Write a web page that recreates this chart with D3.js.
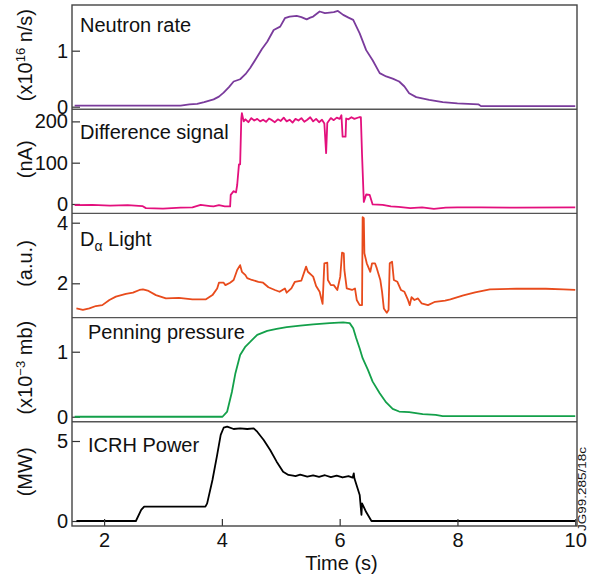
<!DOCTYPE html>
<html lang="en">
<head>
<meta charset="utf-8">
<title>Pulse traces</title>
<script src="https://cdn.jsdelivr.net/npm/d3@7"></script>
<style>
body { margin: 0; background: #fff; }
text { font-family: "Liberation Sans", Arial, Helvetica, sans-serif; fill: #111; }
.axis text { font-size: 20px; }
.axis line { stroke: #333; stroke-width: 1.2; }
</style>
</head>
<body>
<div id="chart"></div>
<script>
// time axis
var xTicks = [2, 4, 6, 8, 10];

// neutron rate (x10^16 n/s)
var neutronT = [1.50, 2.50, 3.30, 3.45, 3.58, 3.70, 3.86, 3.95, 4.03, 4.12, 4.20, 4.31, 4.40, 4.48, 4.60, 4.68, 4.77, 4.88, 4.99, 5.07, 5.15, 5.27, 5.35, 5.44, 5.50, 5.55, 5.66, 5.75, 5.83, 5.90, 5.97, 6.06, 6.15, 6.23, 6.34, 6.45, 6.56, 6.68, 6.79, 6.90, 7.01, 7.10, 7.18, 7.30, 7.52, 7.75, 8.00, 8.36, 8.40, 10.0];
var neutronV = [0.02, 0.02, 0.02, 0.04, 0.05, 0.08, 0.13, 0.18, 0.25, 0.35, 0.45, 0.49, 0.58, 0.69, 0.89, 1.03, 1.16, 1.37, 1.43, 1.58, 1.61, 1.62, 1.60, 1.56, 1.59, 1.61, 1.70, 1.67, 1.68, 1.69, 1.71, 1.64, 1.59, 1.55, 1.31, 1.01, 0.83, 0.60, 0.54, 0.50, 0.45, 0.36, 0.24, 0.17, 0.12, 0.08, 0.06, 0.04, 0.01, 0.01];

// difference signal (nA)
var diffT = [1.50, 1.80, 2.10, 2.40, 2.65, 2.71, 3.00, 3.30, 3.50, 3.64, 3.80, 3.86, 3.95, 4.05, 4.14, 4.15, 4.20, 4.24, 4.26, 4.29, 4.31, 4.33, 4.34, 4.37, 4.40, 4.45, 4.50, 4.55, 4.60, 4.65, 4.70, 4.75, 4.80, 4.85, 4.90, 4.95, 5.00, 5.05, 5.10, 5.15, 5.20, 5.25, 5.30, 5.35, 5.40, 5.45, 5.50, 5.55, 5.60, 5.65, 5.70, 5.74, 5.77, 5.79, 5.85, 5.90, 5.95, 6.00, 6.03, 6.05, 6.10, 6.11, 6.15, 6.20, 6.25, 6.33, 6.36, 6.38, 6.41, 6.45, 6.51, 6.56, 6.73, 6.87, 7.00, 7.20, 7.40, 7.60, 7.80, 8.00, 8.40, 9.00, 10.0];
var diffV = [-3, -2, -4, -3, -5, -10, -11, -9, -8, -2, -5, -6, -3, -6, -6, 22, 31, 28, 46, 96, 96, 207, 220, 200, 205, 198, 208, 202, 206, 200, 204, 199, 207, 203, 198, 205, 201, 209, 200, 204, 197, 206, 202, 208, 199, 204, 210, 200, 206, 198, 204, 195, 123, 196, 208, 203, 209, 206, 215, 163, 163, 207, 205, 210, 206, 210, 210, 119, 5, 23, 22, -1, -2, -6, -7, -10, -8, -12, -9, -8, -8, -9, -8];

// D-alpha light (a.u.)
var dalphaT = [1.53, 1.64, 1.75, 1.86, 1.97, 2.09, 2.20, 2.37, 2.49, 2.60, 2.66, 2.74, 2.88, 3.05, 3.27, 3.50, 3.73, 3.84, 3.92, 3.95, 4.03, 4.06, 4.14, 4.20, 4.26, 4.31, 4.34, 4.40, 4.43, 4.51, 4.62, 4.70, 4.79, 4.90, 4.98, 5.07, 5.10, 5.18, 5.24, 5.35, 5.43, 5.46, 5.55, 5.60, 5.66, 5.71, 5.73, 5.74, 5.79, 5.80, 5.85, 5.90, 5.96, 6.01, 6.04, 6.07, 6.08, 6.12, 6.21, 6.26, 6.29, 6.34, 6.38, 6.39, 6.41, 6.42, 6.46, 6.52, 6.55, 6.60, 6.63, 6.69, 6.72, 6.75, 6.80, 6.83, 6.85, 6.89, 6.92, 6.98, 7.04, 7.10, 7.16, 7.19, 7.22, 7.27, 7.33, 7.39, 7.50, 7.62, 7.79, 7.88, 8.10, 8.30, 8.55, 9.00, 9.50, 9.80, 10.0];
var dalphaV = [1.17, 1.12, 1.17, 1.25, 1.28, 1.45, 1.56, 1.65, 1.69, 1.78, 1.80, 1.76, 1.61, 1.50, 1.52, 1.47, 1.47, 1.61, 1.83, 2.02, 2.02, 1.94, 2.02, 2.11, 2.44, 2.60, 2.38, 2.27, 2.17, 2.11, 2.05, 2.02, 1.87, 1.78, 1.72, 1.83, 1.69, 1.83, 2.05, 2.09, 2.55, 2.38, 2.22, 1.91, 1.72, 1.32, 2.22, 2.66, 2.68, 2.11, 1.94, 1.94, 1.78, 2.22, 3.01, 2.99, 2.44, 1.83, 1.78, 1.83, 1.45, 1.28, 1.28, 4.18, 4.15, 2.99, 2.66, 2.38, 2.66, 2.66, 2.50, 2.11, 1.72, 1.17, 1.03, 1.12, 2.66, 2.71, 2.11, 2.05, 1.78, 1.72, 1.45, 1.28, 1.54, 1.45, 1.50, 1.34, 1.28, 1.39, 1.43, 1.47, 1.60, 1.70, 1.80, 1.82, 1.82, 1.80, 1.78];

// penning pressure (x10^-3 mb)
var penningT = [1.50, 4.01, 4.09, 4.17, 4.23, 4.31, 4.40, 4.48, 4.60, 4.77, 4.93, 5.10, 5.33, 5.55, 5.83, 6.06, 6.17, 6.23, 6.28, 6.34, 6.39, 6.48, 6.56, 6.68, 6.79, 6.90, 7.01, 7.18, 7.41, 7.63, 7.75, 10.0];
var penningV = [0.0, 0.0, 0.08, 0.38, 0.67, 0.95, 1.08, 1.15, 1.26, 1.32, 1.35, 1.38, 1.40, 1.42, 1.44, 1.45, 1.44, 1.36, 1.21, 1.05, 0.90, 0.72, 0.54, 0.36, 0.22, 0.12, 0.08, 0.07, 0.04, 0.03, 0.01, 0.01];

// ICRH power (MW)
var icrhT = [1.53, 2.54, 2.63, 2.68, 3.72, 3.75, 3.84, 3.92, 3.98, 4.03, 4.09, 4.20, 4.31, 4.43, 4.54, 4.60, 4.71, 4.82, 4.93, 5.04, 5.13, 5.21, 5.25, 5.33, 5.45, 5.55, 5.65, 5.75, 5.85, 5.95, 6.05, 6.15, 6.22, 6.24, 6.25, 6.34, 6.37, 6.38, 6.45, 6.54, 10.0];
var icrhV = [0, 0, 0.69, 0.9, 0.9, 1.1, 2.56, 4.13, 5.38, 5.83, 5.9, 5.75, 5.79, 5.75, 5.79, 5.58, 5.06, 4.44, 3.71, 3.08, 2.88, 2.83, 2.80, 2.90, 2.78, 2.85, 2.76, 2.86, 2.74, 2.84, 2.72, 2.80, 2.71, 2.98, 2.67, 1.63, 0.38, 1.1, 0.56, 0, 0];

var W = 593, H = 579;
var padL = 72, padR = 577, padT = 5, padB = 526;
var ph = (padB - padT) / 5;

var panels = [
  { t: neutronT, v: neutronV, color: "#7a3b9c", domain: [-0.045, 1.816], ticks: [0, 1],
    title: [["Neutron rate"]], tx: 80, ty: 26.5, unit: [["(x10"], ["16", "sup"], [" n/s)"]] },
  { t: diffT, v: diffV, color: "#e3107d", domain: [-22.8, 229.5], ticks: [0, 100, 200],
    title: [["Difference signal"]], tx: 80, ty: 30, unit: [["(nA)"]] },
  { t: dalphaT, v: dalphaV, color: "#e84b1c", domain: [0.868, 4.307], ticks: [2, 4],
    title: [["D"], ["\u03b1", "sub"], [" Light"]], tx: 80, ty: 32.5, unit: [["(a.u.)"]] },
  { t: penningT, v: penningV, color: "#13a04a", domain: [-0.078, 1.525], ticks: [0, 1],
    title: [["Penning pressure"]], tx: 88, ty: 21, unit: [["(x10"], ["\u22123", "sup"], [" mb)"]] },
  { t: icrhT, v: icrhV, color: "#000", domain: [-0.3125, 6.2], ticks: [0, 5],
    title: [["ICRH Power"]], tx: 88, ty: 30, unit: [["(MW)"]] }
];

var svg = d3.select("#chart").append("svg")
  .attr("width", W).attr("height", H);

svg.append("rect").attr("width", W).attr("height", H).attr("fill", "#fff");

var x = d3.scaleLinear().domain([1.455, 10.03]).range([padL, padR]);

// writes a label made of plain / sup / sub pieces
function pieces(sel, parts, big, small) {
  var shift = 0;
  parts.forEach(function(p) {
    var want = p[1] == "sup" ? -7 : p[1] == "sub" ? 5 : 0;
    sel.append("tspan")
      .attr("dy", want - shift)
      .attr("font-size", p[1] ? small : big)
      .text(p[0]);
    shift = want;
  });
}

panels.forEach(function(p, i) {
  var y0 = padT + i * ph;
  var y = d3.scaleLinear().domain(p.domain).range([y0 + ph, y0]);
  var g = svg.append("g");

  g.append("g").attr("class", "axis")
    .attr("transform", "translate(" + padL + ",0)")
    .call(d3.axisLeft(y).tickValues(p.ticks).tickFormat(d3.format("d")).tickSize(-8).tickPadding(4))
    .call(function(a) { a.select(".domain").remove(); });

  var pts = p.t.map(function(t, k) { return [t, p.v[k]]; });
  g.append("path")
    .datum(pts)
    .attr("fill", "none")
    .attr("stroke", p.color)
    .attr("stroke-width", 1.8)
    .attr("stroke-linejoin", "round")
    .attr("d", d3.line().x(function(d) { return x(d[0]); }).y(function(d) { return y(d[1]); }));

  pieces(g.append("text").attr("x", p.tx).attr("y", y0 + p.ty), p.title, 20, 14);

  var ut = g.append("text")
    .attr("text-anchor", "middle")
    .attr("transform", "translate(32," + (y0 + ph / 2 - 2) + ") rotate(-90)");
  pieces(ut, p.unit, 20, 13);

  if (i > 0) {
    svg.append("line")
      .attr("x1", padL).attr("x2", padR).attr("y1", y0).attr("y2", y0)
      .attr("stroke", "#555").attr("stroke-width", 1.4);
  }
});

// time axis at the bottom, ticks point inward
svg.append("g").attr("class", "axis")
  .attr("transform", "translate(0," + padB + ")")
  .call(d3.axisBottom(x).tickValues(xTicks).tickFormat(d3.format("d")).tickSize(-7).tickPadding(7))
  .call(function(a) { a.select(".domain").remove(); });

svg.append("rect")
  .attr("x", padL).attr("y", padT)
  .attr("width", padR - padL).attr("height", padB - padT)
  .attr("fill", "none").attr("stroke", "#444").attr("stroke-width", 1.4);

svg.append("text")
  .attr("x", 341.5).attr("y", 570)
  .attr("text-anchor", "middle")
  .attr("font-size", 20)
  .text("Time (s)");

svg.append("text")
  .attr("transform", "translate(586,489) rotate(-90)")
  .attr("text-anchor", "middle")
  .attr("font-size", 10.5)
  .attr("textLength", 84)
  .attr("lengthAdjust", "spacingAndGlyphs")
  .text("JG99.285/18c");
</script>
</body>
</html>
